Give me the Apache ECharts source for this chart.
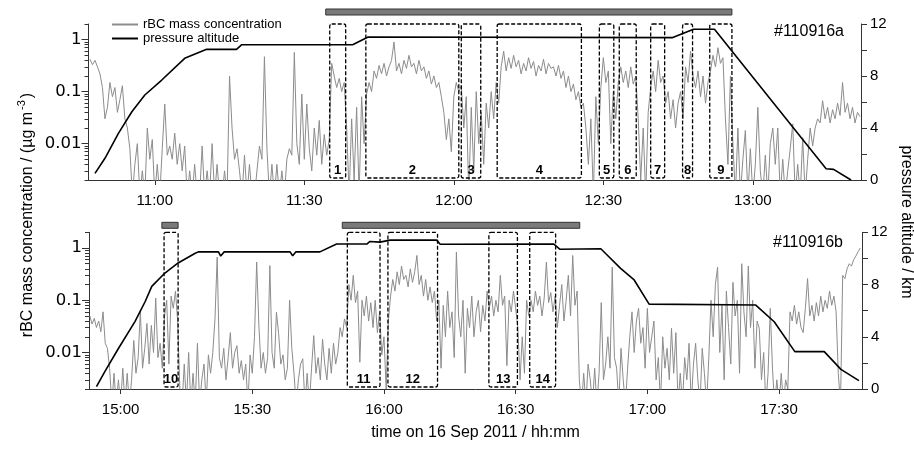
<!DOCTYPE html>
<html>
<head>
<meta charset="utf-8">
<script src="https://cdn.jsdelivr.net/npm/echarts@6.0.0/dist/echarts.min.js"></script>
<style>
html, body { margin: 0; padding: 0; background: #fff; }
#chart { width: 914px; height: 450px; }
</style>
</head>
<body>
<div id="chart"></div>
<script>
// time in minutes after midnight, rBC sampled every 30 s (0 = below detection)
const rbcStartA = 647, rbcStartB = 893, rbcStep = 0.5;
const rbcA = [
  .42,.33,.4,.3,.22,.12,.03,.05,.15,.08,
  .12,.04,.07,.13,.03,.02,.008,0,.004,.01,
  0,.003,0,.02,.005,.012,0,.004,0,.008,
  .058,.006,.009,.005,.016,.004,.01,.003,.009,0,
  .003,0,.004,0,0,.009,0,.003,0,.01,
  0,.004,0,0,.003,0,.2,.02,.005,.008,
  .003,0,.006,0,.004,0,0,.003,.009,.005,
  .47,.008,0,.004,0,.004,0,.003,0,.005,
  .008,.006,.57,.01,.004,.09,.005,.058,.008,.003,
  .02,.006,.028,.004,.015,.006,.012,.35,.2,.12,
  .18,.1,.15,.02,0,.03,.002,.05,0,.08,
  .01,.09,.15,.1,.25,.18,.32,.22,.35,.2,
  .3,.4,.9,.25,.35,.22,.4,.28,.5,.3,
  .35,.22,.4,.25,.3,.18,.25,.14,.2,.12,
  .15,.08,.04,.012,.03,.007,.08,.15,.1,.13,
  .02,.08,0,.05,.003,.1,.01,.04,.004,.06,
  .02,.1,.03,.15,.06,.3,.6,.25,.45,.28,
  .5,.3,.4,.22,.35,.25,.45,.28,.38,.2,
  .32,.25,.42,.22,.35,.28,.3,.2,.32,.18,
  .25,.12,.2,.1,.14,.07,.1,.05,.06,.02,
  .004,.03,0,.08,.01,.12,.45,.15,.25,.01,
  .1,.03,.15,.3,.15,.25,.12,.3,.14,.2,
  .03,.002,.02,0,.04,.12,.25,.1,.4,.15,
  .2,.06,.1,.03,.07,.02,.06,.1,.03,.3,
  .15,.6,.2,.12,.25,.08,.2,.06,.15,.25,
  .5,.3,.7,.35,.45,.03,.004,.2,.01,0,
  .02,0,.005,.018,0,.008,0,.004,.05,.003,
  0,.006,0,.01,.02,.004,.02,0,.005,0,
  .003,.008,.024,0,.004,0,.013,0,.005,.02,
  .009,.02,.03,.025,.067,.03,.05,.025,.045,.03,
  .06,.035,.15,.04,.06,.03,.05,.025,.04,.033
];
const rbcB = [
  .05,.035,.045,.03,.04,.025,.06,.015,.012,.005,
  0,.004,0,.003,0,.005,0,.004,0,.003,
  .017,.004,.008,.063,.005,.012,.036,.006,.033,.01,
  .11,.008,.015,.005,.05,.1,.006,.12,.07,.15,
  .04,.002,0,.006,0,.01,0,.004,0,.015,
  0,.003,.006,0,.009,.004,.01,.044,.67,.008,
  .005,.012,.003,.008,.024,.005,.01,.0135,.004,.007,
  .003,.006,0,.009,.004,.02,.54,.033,.005,.01,
  .004,.008,.46,.01,.005,.059,.023,.006,.009,.003,
  .005,.1,.012,.004,0,.003,.006,.0076,0,.004,
  0,.005,.021,.004,.008,.003,.018,.006,.003,.012,
  .004,.015,.006,.01,.03,.02,.044,.03,.2,.1,
  .3,.09,.15,.0065,.1,.05,.12,.04,.09,.03,
  .1,.024,.06,.009,.02,.002,.04,.12,.25,.15,
  .35,.2,.45,.25,.3,.18,.4,.22,.35,.72,
  .2,.3,.12,.25,.1,.18,.09,.15,.04,.1,
  .005,.08,.02,.15,.03,.06,.008,.84,.05,.02,
  .1,.004,.07,.03,.12,.02,.06,.1,.025,.08,
  .04,.15,.07,.12,.05,.1,.06,.3,.08,.12,
  .0056,.1,.06,.15,.07,.03,.003,.02,.004,.1,
  .05,.1,.06,.15,.08,.12,.05,.11,.54,.09,
  .14,.06,.12,.03,.08,.2,.04,.1,.3,.05,
  .72,.08,.15,.003,0,.004,0,.006,.003,0,
  .005,0,.004,.09,.003,.006,.02,.005,.43,.008,
  .005,0,.012,.003,0,.005,.02,.06,.01,.04,
  .07,.015,.03,.005,.07,.01,.02,.04,.003,.008,
  0,.02,.005,.012,.003,.029,.004,.024,0,.004,
  0,.008,.003,.015,0,.006,.015,.003,0,.012,
  .004,0,.008,.1,.02,.2,.43,.01,.08,.003,
  .15,.03,.006,.22,.05,.1,.004,.5,.06,.02,
  .45,.03,.1,.005,.04,.029,.003,.01,0,.004,
  .07,.005,0,.003,0,.004,0,.003,.002,.06,
  .04,.08,.035,.06,.03,.024,.07,.26,.05,.08,
  .04,.09,.05,.12,.06,.1,.07,.15,.08,.12,
  .06,.004,0,.3,.26,.4,.5,.45,.6,.7,
  .85,1.0
];

// pressure altitude (km) vertices
const altTimeA = [648.0,650.0,652.7,655.4,658.0,661.4,666.0,670.4,676.4,677.4,699.7,702.8,763.8,768.1,772.3,794.7,796.2,799.7];
const altValA  = [0.51,1.67,3.59,5.25,6.54,7.69,9.36,10.05,10.05,10.4,10.4,11.0,10.95,11.6,11.6,0.87,0.82,0];
const altTimeB = [894.5,896.4,899.5,903.3,905.6,907.1,910.1,913.1,917.0,917.7,922.3,922.8,923.6,938.6,939.2,939.9,945.4,949.2,956.1,956.8,959.1,961.4,972.0,972.8,998.7,1000.1,1009.4,1013.9,1017.0,1020.4,1044.7,1048.9,1053.6,1060.3,1064.1,1068.2];
const altValB  = [0.18,1.33,3.1,5.18,6.7,7.86,8.88,9.65,10.4,10.5,10.5,10.18,10.5,10.5,10.2,10.5,10.5,11.1,11.1,11.3,11.25,11.4,11.4,11.08,11.1,10.7,10.74,9.24,8.35,6.5,6.43,5.15,2.86,2.86,1.5,0.64];

// sampling boxes and flight-leg bars
const boxStartA = [695.1,702.35,721.5,728.7,749.2,753.2,759.5,765.9,771.35];
const boxEndA   = [698.3,721.0,725.4,745.6,752.1,756.6,762.3,767.9,775.8];
const boxLabelA = ['1','2','3','4','5','6','7','8','9'];
const boxStartB = [909.9,951.65,960.9,983.9,993.2];
const boxEndB   = [913.1,959.1,972.2,990.4,999.1];
const boxLabelB = ['10','11','12','13','14'];
const barStartA = [694.3], barEndA = [775.8];
const barStartB = [909.4,950.5], barEndB = [913.1,1004.6];

const ticksA = [660,690,720,750,780];
const ticksB = [900,930,960,990,1020,1050];
const logLabels = [0.01,0.1,1];

const F = '"Liberation Sans", Arial, sans-serif';
const FW = '"DejaVu Sans", sans-serif';
const LOD = 0.001;
const minorLog = [];
[0.001,0.01,0.1,1].forEach(d => { for (let k = 2; k <= 9; k++) { const v = +(d * k).toPrecision(3); if (v >= 0.002 && v <= 2) minorLog.push(v); } });

function hhmm(v) {
    const h = Math.floor(v / 60), m = Math.round(v - h * 60);
    return h + ':' + String(m).padStart(2, '0');
}

function xAx(gi, min, max, ticks, extra) {
    return Object.assign({
        type: 'value', gridIndex: gi, min: min, max: max,
        axisLine: { lineStyle: { color: '#333', width: 1 } },
        axisTick: { customValues: ticks, length: 5, lineStyle: { color: '#333' } },
        axisLabel: { customValues: ticks, formatter: hhmm, fontSize: 15, fontFamily: F, color: '#000', margin: 13 },
        splitLine: { show: false }
    }, extra || {});
}
function yLog(gi) {
    return {
        type: 'log', logBase: 10, gridIndex: gi, min: 0.002, max: 2, position: 'left',
        axisLine: { show: true, lineStyle: { color: '#333' } },
        axisTick: { show: true, customValues: logLabels, length: 7, lineStyle: { color: '#333' } },
        axisLabel: { customValues: logLabels, fontSize: 16.5, fontFamily: FW, color: '#000', margin: 7 },
        splitLine: { show: false }
    };
}
function yLogMinor(gi) {
    return {
        type: 'log', logBase: 10, gridIndex: gi, min: 0.002, max: 2, position: 'left',
        axisLine: { show: false },
        axisTick: { show: true, customValues: minorLog, length: 4, lineStyle: { color: '#333' } },
        axisLabel: { show: false }, splitLine: { show: false }
    };
}
function yAlt(gi) {
    return {
        type: 'value', gridIndex: gi, min: 0, max: 12, interval: 2, position: 'right',
        axisLine: { show: true, lineStyle: { color: '#333' } },
        axisTick: { show: true, length: 6, lineStyle: { color: '#333' } },
        axisLabel: { customValues: [0,4,8,12], fontSize: 15, fontFamily: F, color: '#000', margin: 9 },
        splitLine: { show: false }
    };
}

function boxRender(labels) {
    return function (params, api) {
        const cs = params.coordSys;
        const x0 = api.coord([api.value(0), 0])[0];
        const x1 = api.coord([api.value(1), 0])[0];
        const top = cs.y, bot = cs.y + cs.height - 2;
        return { type: 'group', children: [
            { type: 'rect', shape: { x: x0, y: top, width: x1 - x0, height: bot - top, r: 2 },
              style: { fill: 'none', stroke: '#000', lineWidth: 1.3, lineDash: [4, 2] } },
            { type: 'text', x: (x0 + x1) / 2, y: bot - 1,
              style: { text: labels[params.dataIndex], fill: '#000', font: 'bold 13px ' + F, align: 'center', verticalAlign: 'bottom' } }
        ]};
    };
}
function barRender(off) {
    return function (params, api) {
        const cs = params.coordSys;
        const x0 = api.coord([api.value(0), 0])[0];
        const x1 = api.coord([api.value(1), 0])[0];
        return { type: 'rect', shape: { x: x0, y: cs.y - off, width: x1 - x0, height: 6 },
                 style: { fill: '#7a7a7a', stroke: '#333', lineWidth: 1 } };
    };
}

const pair = (a, b) => a.map((v, i) => [v, b[i]]);
const rbcPts = (start, arr) => arr.map((v, i) => [start + i * rbcStep, v > 0 ? v : LOD]);

const chart = echarts.init(document.getElementById('chart'));
chart.setOption({
    animation: false,
    backgroundColor: '#fff',
    textStyle: { fontFamily: F },
    grid: [
        { left: 88.5, top: 24, width: 772.5, height: 156 },
        { left: 89, top: 232.3, width: 773, height: 156.7 }
    ],
    legend: {
        data: ['rBC mass concentration', 'pressure altitude'],
        orient: 'vertical', left: 106, top: 13, itemWidth: 26, itemHeight: 14, itemGap: 1,
        itemStyle: { opacity: 0 },
        textStyle: { fontSize: 13, fontFamily: F, color: '#000' }
    },
    xAxis: [
        xAx(0, 646.7, 801.7, ticksA),
        xAx(1, 892.8, 1068.9, ticksB, {
            name: 'time on 16 Sep 2011 / hh:mm', nameLocation: 'middle', nameGap: 36,
            nameTextStyle: { fontSize: 16, fontFamily: F, color: '#000' }
        })
    ],
    yAxis: [yLog(0), yAlt(0), yLogMinor(0), yLog(1), yAlt(1), yLogMinor(1)],
    series: [
        { name: 'rBC mass concentration', type: 'line', xAxisIndex: 0, yAxisIndex: 0, data: rbcPts(rbcStartA, rbcA),
          symbol: 'none', lineStyle: { color: '#8c8c8c', width: 1 }, itemStyle: { color: '#8c8c8c' }, clip: true, z: 2 },
        { name: 'pressure altitude', type: 'line', xAxisIndex: 0, yAxisIndex: 1, data: pair(altTimeA, altValA),
          symbol: 'none', lineStyle: { color: '#000', width: 1.6 }, itemStyle: { color: '#000' }, z: 3 },
        { name: 'rBC mass concentration', type: 'line', xAxisIndex: 1, yAxisIndex: 3, data: rbcPts(rbcStartB, rbcB),
          symbol: 'none', lineStyle: { color: '#8c8c8c', width: 1 }, itemStyle: { color: '#8c8c8c' }, clip: true, z: 2 },
        { name: 'pressure altitude', type: 'line', xAxisIndex: 1, yAxisIndex: 4, data: pair(altTimeB, altValB),
          symbol: 'none', lineStyle: { color: '#000', width: 1.6 }, itemStyle: { color: '#000' }, z: 3 },
        { type: 'custom', xAxisIndex: 0, yAxisIndex: 1, data: pair(boxStartA, boxEndA), renderItem: boxRender(boxLabelA), z: 4, silent: true },
        { type: 'custom', xAxisIndex: 1, yAxisIndex: 4, data: pair(boxStartB, boxEndB), renderItem: boxRender(boxLabelB), z: 4, silent: true },
        { type: 'custom', xAxisIndex: 0, yAxisIndex: 1, data: pair(barStartA, barEndA), renderItem: barRender(15), z: 4, silent: true },
        { type: 'custom', xAxisIndex: 1, yAxisIndex: 4, data: pair(barStartB, barEndB), renderItem: barRender(10), z: 4, silent: true }
    ],
    graphic: [
        { type: 'text', x: 844, y: 32, style: { text: '#110916a', font: '16px ' + F, fill: '#000', align: 'right', verticalAlign: 'middle' } },
        { type: 'text', x: 843, y: 243, style: { text: '#110916b', font: '16px ' + F, fill: '#000', align: 'right', verticalAlign: 'middle' } },
        { type: 'text', x: 26, y: 215, rotation: Math.PI / 2,
          style: { text: '{a|rBC mass concentration / (µg m}{s|-3}{a|)}', align: 'center', verticalAlign: 'middle', fill: '#000',
                   rich: { a: { fontSize: 16, fontFamily: F, verticalAlign: 'bottom' }, s: { fontSize: 11, fontFamily: F, verticalAlign: 'top', padding: [0, 2, 8, 2] } } } },
        { type: 'text', x: 906, y: 222, rotation: -Math.PI / 2,
          style: { text: 'pressure altitude / km', font: '16px ' + F, fill: '#000', align: 'center', verticalAlign: 'middle' } }
    ]
});
</script>
</body>
</html>
